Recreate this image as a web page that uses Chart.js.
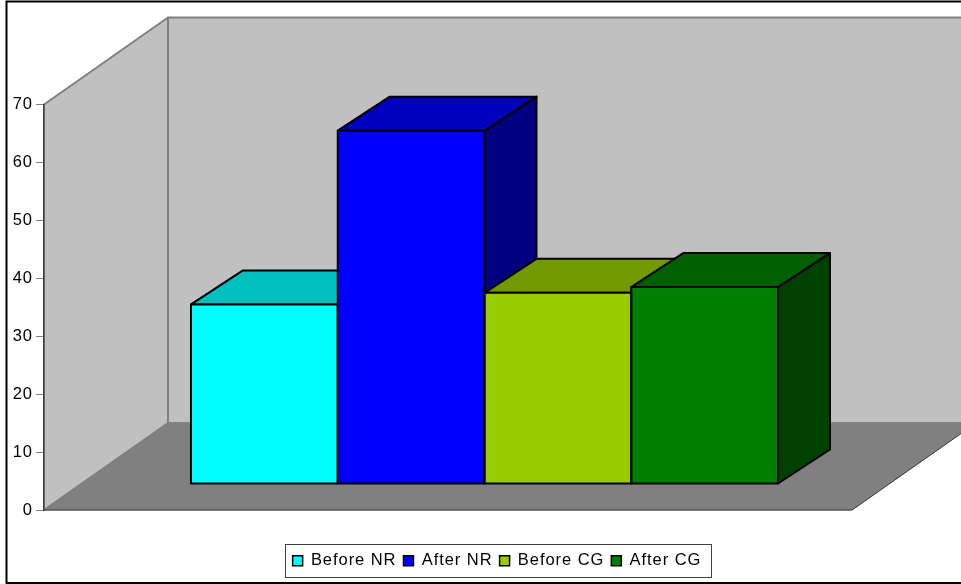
<!DOCTYPE html>
<html>
<head>
<meta charset="utf-8">
<style>
html, body { margin: 0; padding: 0; background: #fff; overflow: hidden; }
canvas { display: block; }
</style>
<script src="https://cdn.jsdelivr.net/npm/chart.js@4/dist/chart.umd.min.js"></script>
</head>
<body>
<canvas id="groups" width="961" height="584"></canvas>
<script>
var seriesNames = ['Before NR', 'After NR', 'Before CG', 'After CG'];
var seriesValues = [31, 61, 33, 34];
var frontColors = ['#00FFFF', '#0000FF', '#99CC00', '#008000'];
var topColors = ['#00BFBF', '#0000BF', '#739900', '#006000'];
var sideColors = ['#008080', '#000080', '#4D6600', '#004000'];

// how far the walls and the boxes run back into the picture
var wallDepth = { x: 124, y: -87 };
var boxDepth = { x: 52, y: -34 };
var boxShift = { x: 36.5, y: -26 };
var legendShift = 71;

function poly(ctx, pts, fill, stroke, width) {
    ctx.beginPath();
    ctx.moveTo(pts[0][0], pts[0][1]);
    for (var i = 1; i < pts.length; i++) ctx.lineTo(pts[i][0], pts[i][1]);
    ctx.closePath();
    ctx.fillStyle = fill;
    ctx.fill();
    ctx.strokeStyle = stroke;
    ctx.lineWidth = width;
    ctx.lineJoin = 'round';
    ctx.stroke();
}

function barRect(el) {
    return {
        l: el.x - el.width / 2,
        r: el.x + el.width / 2,
        t: el.y,
        b: el.base
    };
}

var boxes3d = {
    id: 'boxes3d',
    // the canvas state gets reset on resize, so set the spacing before measuring
    beforeLayout: function (chart) {
        chart.ctx.letterSpacing = '0.95px';
    },
    afterLayout: function (chart) {
        // legend sits right of the plot centre
        chart.legend.left += legendShift;
        chart.legend.right += legendShift;
        chart.legend.legendHitBoxes.forEach(function (box) { box.left += legendShift; });
    },
    beforeDraw: function (chart) {
        var ctx = chart.ctx;
        var a = chart.chartArea;
        var y = chart.scales.y;
        var top = y.getPixelForValue(70);
        var zero = y.getPixelForValue(0);
        var dx = wallDepth.x, dy = wallDepth.y;
        ctx.save();
        // back wall
        poly(ctx, [[a.left + dx, top + dy], [a.right + dx, top + dy], [a.right + dx, zero + dy], [a.left + dx, zero + dy]], '#C0C0C0', '#808080', 2);
        // left wall
        poly(ctx, [[a.left, top], [a.left + dx, top + dy], [a.left + dx, zero + dy], [a.left, zero]], '#C0C0C0', '#808080', 2);
        // floor
        poly(ctx, [[a.left, zero], [a.right, zero], [a.right + dx, zero + dy], [a.left + dx, zero + dy]], '#808080', '#808080', 1);
        ctx.beginPath();
        ctx.moveTo(a.left, zero);
        ctx.lineTo(a.right, zero);
        ctx.lineTo(a.right + dx, zero + dy);
        ctx.strokeStyle = '#404040';
        ctx.lineWidth = 1;
        ctx.stroke();
        ctx.restore();
    },
    beforeDatasetsDraw: function (chart) {
        var ctx = chart.ctx;
        ctx.save();
        ctx.translate(boxShift.x, boxShift.y);
        // sides and tops go first, left to right, the fronts cover them afterwards
        for (var i = 0; i < seriesValues.length; i++) {
            var r = barRect(chart.getDatasetMeta(i).data[0]);
            var dx = boxDepth.x, dy = boxDepth.y;
            poly(ctx, [[r.r, r.t], [r.r + dx, r.t + dy], [r.r + dx, r.b + dy], [r.r, r.b]], sideColors[i], '#000', 2);
            poly(ctx, [[r.l, r.t], [r.l + dx, r.t + dy], [r.r + dx, r.t + dy], [r.r, r.t]], topColors[i], '#000', 2);
        }
    },
    afterDatasetsDraw: function (chart) {
        var ctx = chart.ctx;
        for (var i = 0; i < seriesValues.length; i++) {
            var r = barRect(chart.getDatasetMeta(i).data[0]);
            ctx.strokeStyle = '#000';
            ctx.lineWidth = 2;
            ctx.strokeRect(r.l, r.t, r.r - r.l, r.b - r.t);
        }
        ctx.restore();
    },
    afterDraw: function (chart) {
        var ctx = chart.ctx;
        var boxes = chart.legend.legendHitBoxes;
        var first = boxes[0], last = boxes[boxes.length - 1];
        var mid = first.top + first.height / 2;
        var left = Math.round(first.left - 8) + 0.5;
        ctx.save();
        // legend frame
        ctx.strokeStyle = '#404040';
        ctx.lineWidth = 1;
        ctx.strokeRect(left, Math.round(mid - 16.5) + 0.5, Math.round(last.left + last.width + 10 - left), 33);
        // outer chart border, open on the right
        ctx.strokeStyle = '#000';
        ctx.lineWidth = 2;
        ctx.beginPath();
        ctx.moveTo(961, 1.5);
        ctx.lineTo(6.5, 1.5);
        ctx.lineTo(6.5, 583);
        ctx.lineTo(961, 583);
        ctx.stroke();
        ctx.restore();
    }
};

var datasets = seriesNames.map(function (name, i) {
    return {
        label: name,
        data: [seriesValues[i]],
        backgroundColor: frontColors[i],
        borderColor: '#000',
        borderWidth: 0
    };
});

new Chart(document.getElementById('groups'), {
    type: 'bar',
    data: { labels: [''], datasets: datasets },
    plugins: [boxes3d],
    options: {
        responsive: false,
        animation: false,
        layout: { padding: { top: 104.5, right: 109, bottom: 5, left: 0 } },
        datasets: { bar: { barPercentage: 1, categoryPercentage: 0.7265 } },
        scales: {
            x: {
                grid: { display: false },
                border: { display: false },
                ticks: { display: false },
                afterFit: function (scale) { scale.height = 35.5; }
            },
            y: {
                min: 0,
                max: 70,
                ticks: {
                    stepSize: 10,
                    color: '#000',
                    padding: 3,
                    font: { family: 'Liberation Sans', size: 16.5 }
                },
                grid: { drawOnChartArea: false, color: '#808080', tickLength: 8 },
                border: { color: '#404040', width: 1.5 },
                afterFit: function (scale) { scale.width = 44; }
            }
        },
        plugins: {
            tooltip: { enabled: false },
            legend: {
                position: 'bottom',
                labels: {
                    color: '#000',
                    boxWidth: 10,
                    boxHeight: 10,
                    padding: 7,
                    font: { family: 'Liberation Sans', size: 16.5 },
                    generateLabels: function (chart) {
                        var items = Chart.defaults.plugins.legend.labels.generateLabels(chart);
                        items.forEach(function (it) { it.lineWidth = 1.5; it.strokeStyle = '#000'; });
                        return items;
                    }
                }
            }
        }
    }
});
</script>
</body>
</html>
